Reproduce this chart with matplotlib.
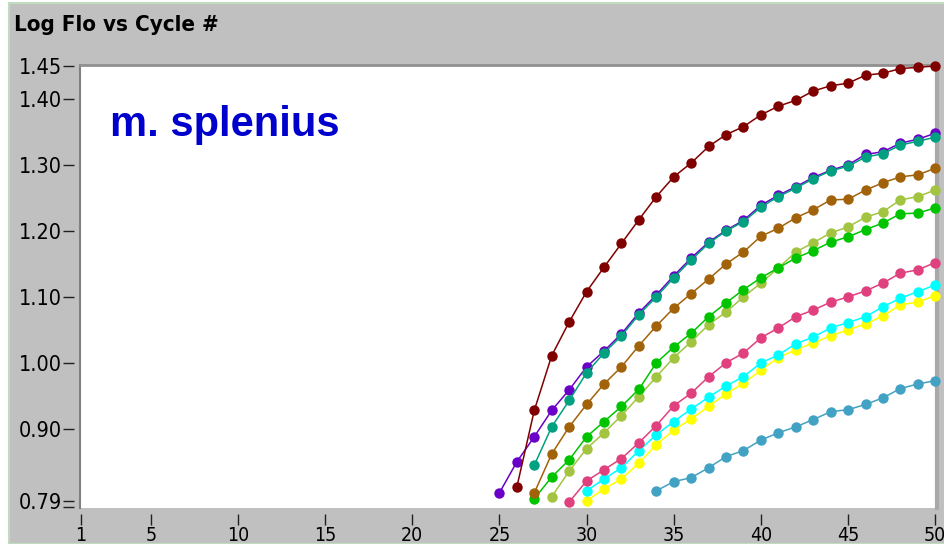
import matplotlib.pyplot as plt
import numpy as np
from matplotlib.patches import Rectangle

plt.rcParams['font.family'] = 'DejaVu Sans'
plt.rcParams['font.stretch'] = 'condensed'

# log fluorescence per cycle, one list per sample (start cycle, values up to cycle 50)
darkred_start = 26
darkred = [0.812, 0.928, 1.011, 1.062, 1.108, 1.145, 1.181, 1.217, 1.252, 1.282,
           1.303, 1.328, 1.346, 1.358, 1.376, 1.389, 1.398, 1.412, 1.420, 1.424,
           1.436, 1.439, 1.446, 1.448, 1.450]
purple_start = 25
purple = [0.803, 0.850, 0.888, 0.928, 0.959, 0.994, 1.018, 1.044, 1.076, 1.103,
          1.132, 1.159, 1.183, 1.201, 1.216, 1.239, 1.254, 1.267, 1.281, 1.292,
          1.300, 1.316, 1.320, 1.333, 1.339, 1.348]
teal_start = 27
teal = [0.845, 0.903, 0.943, 0.985, 1.015, 1.041, 1.073, 1.100, 1.129, 1.156,
        1.181, 1.200, 1.214, 1.236, 1.252, 1.265, 1.279, 1.291, 1.298, 1.312,
        1.317, 1.330, 1.336, 1.342]
brown_start = 27
brown = [0.803, 0.862, 0.903, 0.937, 0.968, 0.994, 1.026, 1.056, 1.083, 1.105,
         1.127, 1.150, 1.168, 1.192, 1.204, 1.220, 1.232, 1.247, 1.248, 1.262,
         1.273, 1.282, 1.285, 1.295]
green_start = 27
green = [0.794, 0.827, 0.853, 0.888, 0.911, 0.934, 0.960, 1.000, 1.024, 1.045,
         1.070, 1.091, 1.111, 1.129, 1.144, 1.159, 1.170, 1.183, 1.191, 1.202,
         1.212, 1.226, 1.227, 1.235]
ygreen_start = 28
ygreen = [0.797, 0.836, 0.870, 0.894, 0.920, 0.949, 0.979, 1.008, 1.032, 1.058,
          1.077, 1.100, 1.121, 1.144, 1.168, 1.182, 1.197, 1.206, 1.221, 1.229,
          1.247, 1.252, 1.262]
pink_start = 29
pink = [0.789, 0.821, 0.838, 0.855, 0.879, 0.905, 0.935, 0.954, 0.979, 1.000,
        1.015, 1.038, 1.053, 1.070, 1.080, 1.092, 1.100, 1.109, 1.121, 1.136,
        1.141, 1.152]
cyan_start = 30
cyan = [0.806, 0.824, 0.841, 0.867, 0.891, 0.911, 0.930, 0.948, 0.965, 0.979,
        1.000, 1.012, 1.029, 1.039, 1.053, 1.061, 1.070, 1.085, 1.098, 1.108,
        1.118]
yellow_start = 30
yellow = [0.791, 0.809, 0.824, 0.848, 0.876, 0.898, 0.915, 0.934, 0.953, 0.969,
          0.989, 1.008, 1.020, 1.030, 1.041, 1.050, 1.059, 1.071, 1.088, 1.092,
          1.102]
steel_start = 34
steel = [0.806, 0.820, 0.826, 0.841, 0.858, 0.867, 0.883, 0.894, 0.903, 0.914,
         0.926, 0.929, 0.937, 0.947, 0.961, 0.968, 0.973]

xticks = [1, 5, 10, 15, 20, 25, 30, 35, 40, 45, 50]
yticks = [0.79, 0.90, 1.00, 1.10, 1.20, 1.30, 1.40, 1.45]

series = [
    (steel_start, steel, '#42a2c4'),
    (yellow_start, yellow, '#ffff00'),
    (cyan_start, cyan, '#00ffff'),
    (pink_start, pink, '#e0407e'),
    (ygreen_start, ygreen, '#a2c440'),
    (green_start, green, '#00c400'),
    (brown_start, brown, '#a2620a'),
    (purple_start, purple, '#6a00c8'),
    (teal_start, teal, '#00a080'),
    (darkred_start, darkred, '#800000'),
]

fig = plt.figure(figsize=(9.45, 5.44), dpi=100, facecolor='white')
fig.add_artist(Rectangle((9 / 945, 0), 1, 1 - 3 / 544, transform=fig.transFigure,
                         facecolor='#c0c0c0', edgecolor='#c0dcc0', linewidth=1.5,
                         zorder=-5))

ax = fig.add_axes([80 / 945, 36 / 544, 857 / 945, 443 / 544])
ax.set_facecolor('white')

for start, vals, col in series:
    x = np.arange(start, start + len(vals))
    ax.plot(x, vals, color=col, linewidth=1.1, marker='o', markersize=7.5,
            markeredgewidth=0, clip_on=False, zorder=3)

ax.set_xlim(0.94, 50.1)
ax.set_ylim(0.780, 1.4515)

ax.set_xticks(xticks)
ax.set_xticklabels([str(t) for t in xticks])
ax.set_yticks(yticks)
ax.set_yticklabels(['%.2f' % t for t in yticks])
ax.set_yticks([0.7815], minor=True)
ax.tick_params(axis='x', direction='out', length=8, width=1, color='#202020', pad=1,
               labelsize=14)
ax.tick_params(axis='y', direction='out', length=8, width=1, color='#202020', pad=1,
               labelsize=15.5)
ax.tick_params(axis='y', which='minor', direction='out', length=8, width=1, color='#202020')

ax.spines['left'].set_position(('outward', 4))
ax.spines['bottom'].set_position(('outward', 4))
ax.spines['left'].set_visible(False)
ax.spines['bottom'].set_visible(False)
ax.spines['top'].set_color('#909090')
ax.spines['top'].set_linewidth(2)
ax.spines['right'].set_color('#a8a8a8')
ax.spines['right'].set_linewidth(3)
ax.plot([0, 0], [0, 1], transform=ax.transAxes, color='#808080', linewidth=1.5,
        clip_on=False)

fig.text(14 / 945, 1 - 31 / 544, 'Log Flo vs Cycle #', fontweight='bold',
         fontsize=16, ha='left', va='baseline', color='black')
fig.text(110 / 945, 1 - 136 / 544, 'm. splenius', family='Liberation Sans',
         stretch='normal', fontweight='bold', fontsize=30, color='#0000cc',
         ha='left', va='baseline')

fig.savefig('out.png', dpi=100, facecolor=fig.get_facecolor())
